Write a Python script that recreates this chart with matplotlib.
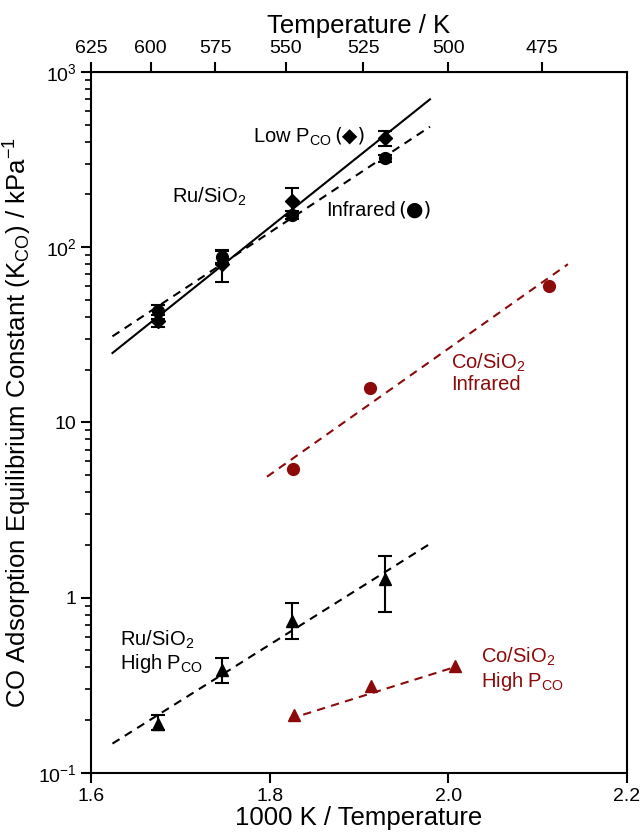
"""CO adsorption equilibrium constants vs inverse temperature (Ru/SiO2 and Co/SiO2)"""

import numpy as np
import matplotlib
matplotlib.use('Agg')
import matplotlib.pyplot as plt

plt.rcParams['font.family'] = ['Liberation Sans', 'DejaVu Sans']
plt.rcParams['mathtext.fontset'] = 'custom'
plt.rcParams['mathtext.rm'] = 'Liberation Sans'
plt.rcParams['mathtext.it'] = 'Liberation Sans:italic'
plt.rcParams['mathtext.bf'] = 'Liberation Sans:bold'

#Ru/SiO2 low P_CO (diamonds) and infrared (circles)
ru_x = [1.675, 1.747, 1.825, 1.929]
ru_low_k = [38, 80, 184, 418]
ru_low_err = [3, 17, 34, 42]
ru_ir_k = [43, 88, 152, 321]
ru_ir_err = [4, 7, 8, 15]

#Ru/SiO2 high P_CO (triangles)
ru_high_k = [0.19, 0.385, 0.74, 1.27]
ru_high_lo = [0.175, 0.325, 0.58, 0.825]
ru_high_hi = [0.215, 0.455, 0.935, 1.74]

#Co/SiO2 infrared and high P_CO
co_ir_x = [1.8265, 1.912, 2.113]
co_ir_k = [5.45, 15.8, 59.8]
co_high_x = [1.827, 1.913, 2.008]
co_high_k = [0.214, 0.312, 0.408]

#fitted lines (end points)
fit_ru_low_x = [1.624, 1.9795]
fit_ru_low_k = [24.9, 698]
fit_ru_ir_x = [1.624, 1.9795]
fit_ru_ir_k = [31, 487]
fit_ru_high_x = [1.624, 1.9795]
fit_ru_high_k = [0.147, 2.03]
fit_co_ir_x = [1.797, 2.134]
fit_co_ir_k = [4.9, 80]
fit_co_high_x = [1.822, 2.006]
fit_co_high_k = [0.203, 0.40]

temp_ticks = [625, 600, 575, 550, 525, 500, 475]

red = '#8c0a0a'

fig = plt.figure(figsize=(6.41, 8.32), dpi=100)
ax = fig.add_axes([0.142, 0.071, 0.836, 0.8425])

#fit lines
ax.plot(fit_ru_low_x, fit_ru_low_k, color='k', lw=1.5)
ax.plot(fit_ru_ir_x, fit_ru_ir_k, color='k', lw=1.5, ls=(0, (4, 3)))
ax.plot(fit_ru_high_x, fit_ru_high_k, color='k', lw=1.5, ls=(0, (4, 3)))
ax.plot(fit_co_ir_x, fit_co_ir_k, color=red, lw=1.5, ls=(0, (4, 3)))
ax.plot(fit_co_high_x, fit_co_high_k, color=red, lw=1.5, ls=(0, (4, 3)))

#data points
ax.errorbar(ru_x, ru_ir_k, yerr=ru_ir_err, fmt='o', color='k', ms=8.5,
            capsize=5, capthick=1.5, elinewidth=1.5)
ax.errorbar(ru_x, ru_low_k, yerr=ru_low_err, fmt='D', color='k', ms=7.5,
            capsize=5, capthick=1.5, elinewidth=1.5)
ru_high_err = [np.array(ru_high_k) - np.array(ru_high_lo),
               np.array(ru_high_hi) - np.array(ru_high_k)]
ax.errorbar(ru_x, ru_high_k, yerr=ru_high_err, fmt='^', color='k', ms=8.5,
            capsize=5, capthick=1.5, elinewidth=1.5)
ax.plot(co_ir_x, co_ir_k, 'o', color=red, ms=8.5)
ax.plot(co_high_x, co_high_k, '^', color=red, ms=8.5)

#axes
ax.set_yscale('log')
ax.set_xlim(1.6, 2.2)
ax.set_ylim(0.1, 1000)
ax.set_xticks([1.6, 1.8, 2.0, 2.2])
ax.set_xticklabels(['1.6', '1.8', '2.0', '2.2'])
ax.set_yticks([0.1, 1, 10, 100, 1000])
ax.set_yticklabels(['$10^{-1}$', '1', '10', '$10^2$', '$10^3$'])
ax.tick_params(axis='both', which='major', labelsize=14, width=1.5, length=7, direction='out')
ax.tick_params(axis='y', which='minor', width=1.2, length=4, direction='out')
ax.tick_params(axis='x', which='minor', bottom=False)
for sp in ax.spines.values():
    sp.set_linewidth(1.5)

ax.set_xlabel('1000 K / Temperature', fontsize=18.5, labelpad=1)
ax.set_ylabel(r'CO Adsorption Equilibrium Constant (K$_{\mathrm{CO}}$) / kPa$^{-1}$',
              fontsize=18.5, labelpad=3)

#top temperature axis
inv = lambda t: 1000.0 / np.asarray(t, dtype=float)
top = ax.secondary_xaxis('top', functions=(inv, inv))
top.set_xticks(temp_ticks)
top.set_xticklabels([str(t) for t in temp_ticks])
top.tick_params(labelsize=14, width=1.5, length=7, direction='out')
top.minorticks_off()
top.set_xlabel('Temperature / K', fontsize=18.5, labelpad=5)

#annotations
t_low = ax.text(1.781, 425, r'Low P$_{\mathrm{CO}}$', fontsize=14.5, va='center')
ax.annotate('(◆)', xy=(1, 0.55), xycoords=t_low, xytext=(2, 0),
            textcoords='offset points', fontsize=14.5, va='center',
            family='DejaVu Sans')
ax.text(1.691, 195, r'Ru/SiO$_2$', fontsize=14.5, va='center')
t_ir = ax.text(1.863, 163, 'Infrared', fontsize=14.5, va='center')
ax.annotate('(●)', xy=(1, 0.5), xycoords=t_ir, xytext=(2, 0),
            textcoords='offset points', fontsize=14.5, va='center',
            family='DejaVu Sans')
ax.text(2.003, 19.2, 'Co/SiO$_2$\nInfrared', fontsize=14.5, va='center',
        color=red, linespacing=1.1)
ax.text(1.632, 0.49, 'Ru/SiO$_2$\nHigh P$_{\\mathrm{CO}}$', fontsize=14.5,
        va='center', linespacing=1.1)
ax.text(2.037, 0.39, 'Co/SiO$_2$\nHigh P$_{\\mathrm{CO}}$', fontsize=14.5,
        va='center', color=red, linespacing=1.1)

fig.savefig('out.png', dpi=100)
